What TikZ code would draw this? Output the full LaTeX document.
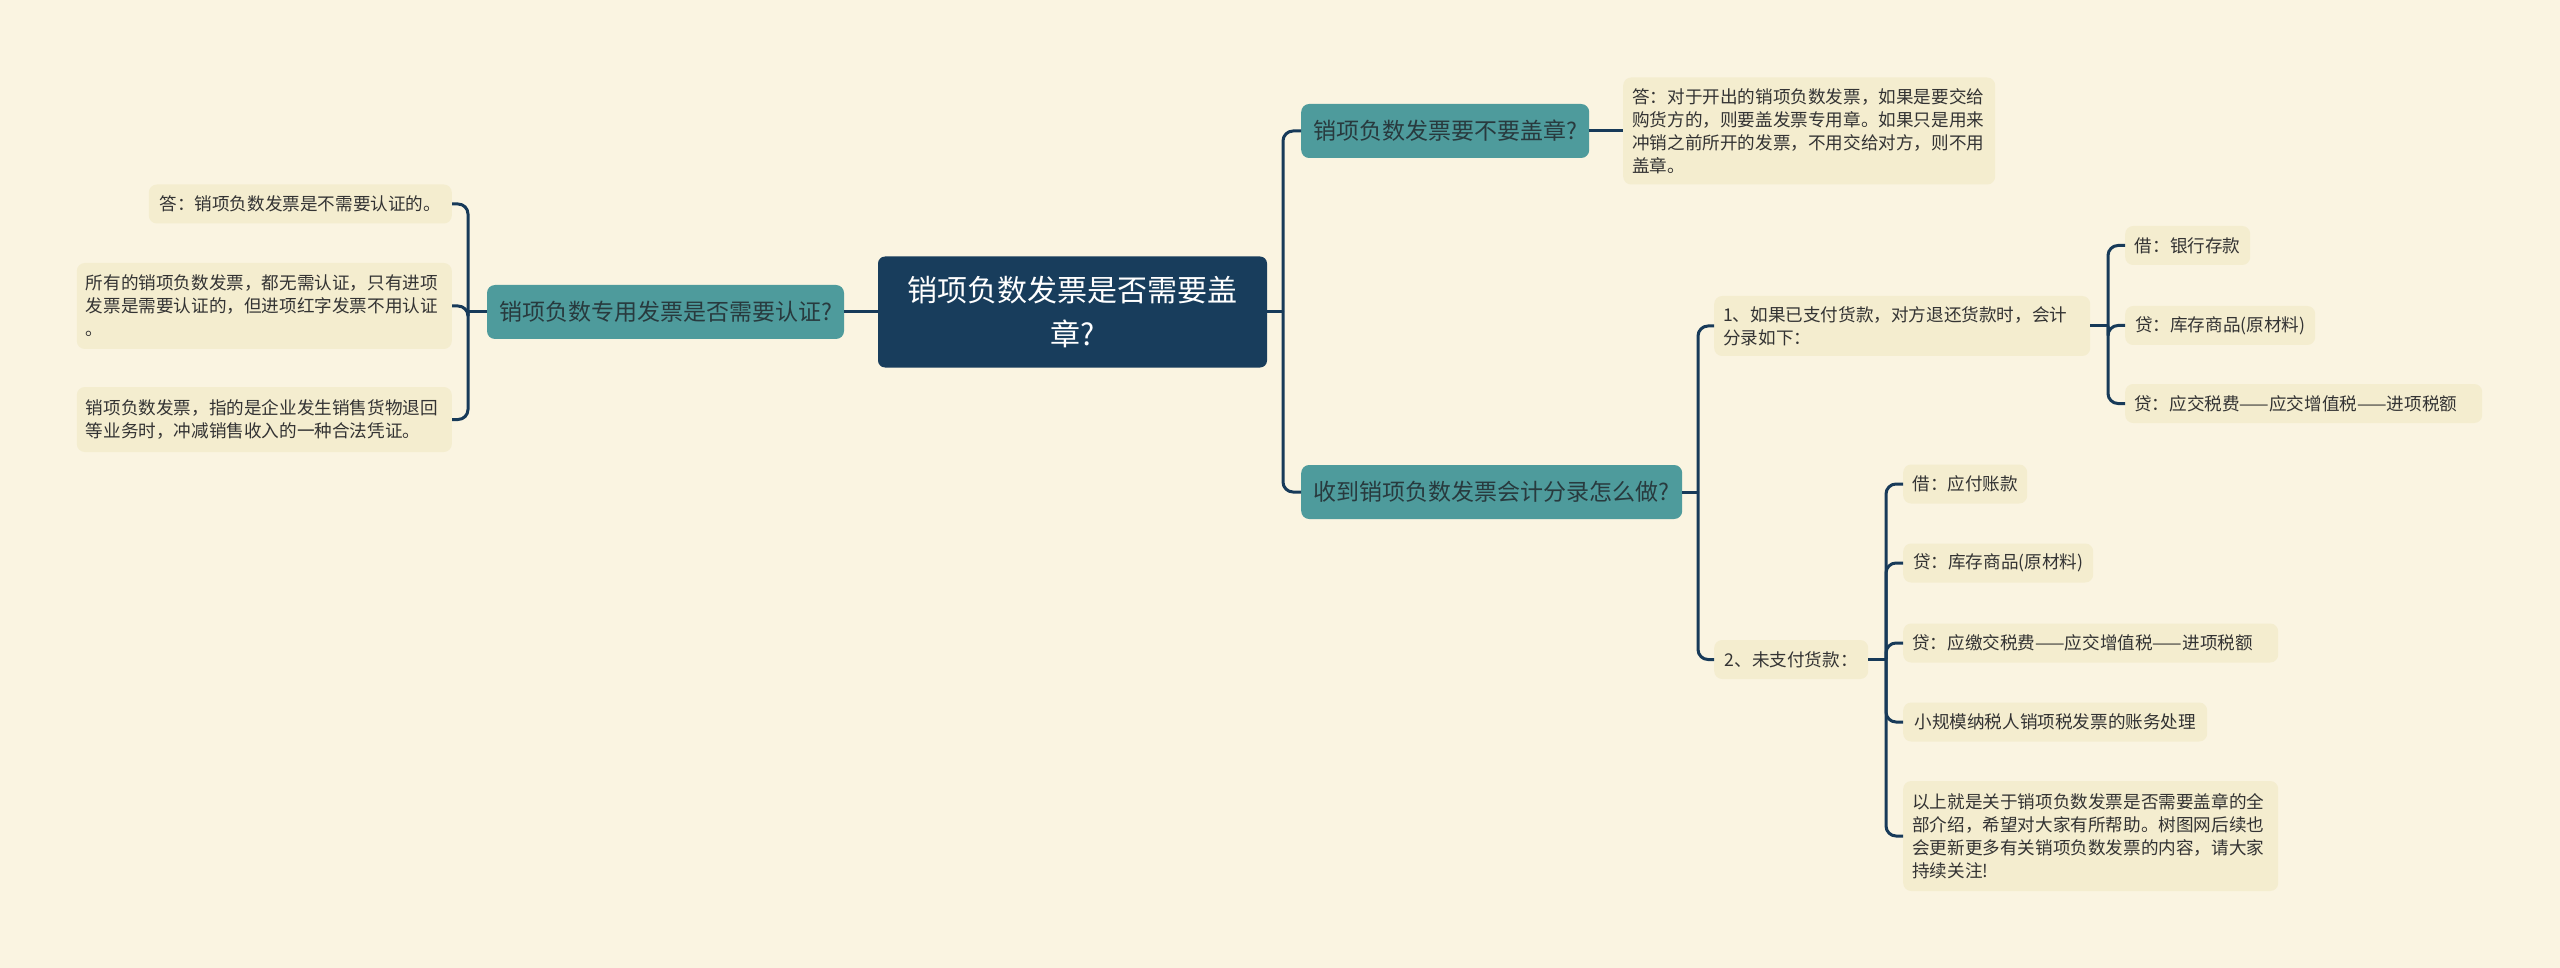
\documentclass[tikz,border=0pt]{standalone}
\usepackage{fontspec}
\setmainfont{Noto Sans CJK SC}
\definecolor{bg}{HTML}{FAF4E1}
\definecolor{leaffill}{HTML}{F4EDCF}
\definecolor{leaftext}{HTML}{333333}
\definecolor{teal}{HTML}{4E9B9C}
\definecolor{tealtext}{HTML}{283A3E}
\definecolor{rootfill}{HTML}{183D5C}
\definecolor{conncol}{HTML}{173A59}
\tikzset{
  leaf/.style={fill=leaffill, rounded corners=8pt, text=leaftext,
    font=\fontsize{17.6}{23}\selectfont, inner xsep=9pt, inner ysep=0pt,
    minimum height=39pt, align=left},
  sub/.style={fill=teal, rounded corners=8pt, text=tealtext,
    font=\fontsize{23}{28}\selectfont, inner xsep=10pt, inner ysep=0pt,
    minimum height=54pt, align=center},
  rootbox/.style={fill=rootfill, rounded corners=7pt, text=white,
    font=\fontsize{30}{44}\selectfont, align=center, inner sep=0pt,
    minimum width=389pt, minimum height=111pt},
  conn/.style={draw=conncol, line width=3pt, rounded corners=10pt}
}
\begin{document}
\begin{tikzpicture}[x=1pt,y=-1pt]
\useasboundingbox[fill=bg] (0,0) rectangle (2560,968);

% root
\node[rootbox] (root) at (1072.5,312) {销项负数发票是否需要盖\\章?};

% left branch
\node[sub, minimum width=357pt] (l1) at (665.5,312) {销项负数专用发票是否需要认证?};
\node[leaf, anchor=east, minimum width=303pt] (la) at (452,204) {答：销项负数发票是不需要认证的。};
\node[leaf, anchor=east, text width=357pt, minimum height=86pt] (lb) at (452,306) {所有的销项负数发票，都无需认证，只有进项\\发票是需要认证的，但进项红字发票不用认证\\。};
\node[leaf, anchor=east, text width=357pt, minimum height=65pt] (lc) at (452,419.5) {销项负数发票，指的是企业发生销售货物退回\\等业务时，冲减销售收入的一种合法凭证。};

% right branch top
\node[sub, anchor=west, minimum width=288pt] (r1) at (1301,131) {销项负数发票要不要盖章?};
\node[leaf, anchor=west, text width=354pt, minimum height=107pt] (rt) at (1623,131) {答：对于开出的销项负数发票，如果是要交给\\购货方的，则要盖发票专用章。如果只是用来\\冲销之前所开的发票，不用交给对方，则不用\\盖章。};

% right branch bottom
\node[sub, anchor=west, minimum width=381pt] (r2) at (1301,492) {收到销项负数发票会计分录怎么做?};
\node[leaf, anchor=west, text width=358pt, minimum height=60pt] (p1) at (1714,326) {1、如果已支付货款，对方退还货款时，会计\\分录如下：};
\node[leaf, anchor=west, minimum width=154pt] (p2) at (1714,659.5) {2、未支付货款：};

\node[leaf, anchor=west, minimum width=125pt] (g1a) at (2125,245.5) {借：银行存款};
\node[leaf, anchor=west, minimum width=190pt] (g1b) at (2125,325.5) {贷：库存商品(原材料)};
\node[leaf, anchor=west, text width=339pt] (g1c) at (2125,403.5) {贷：应交税费——应交增值税——进项税额};

\node[leaf, anchor=west, minimum width=124pt] (g2a) at (1903,484) {借：应付账款};
\node[leaf, anchor=west, minimum width=190pt] (g2b) at (1903,563) {贷：库存商品(原材料)};
\node[leaf, anchor=west, text width=357pt] (g2c) at (1903,643) {贷：应缴交税费——应交增值税——进项税额};
\node[leaf, anchor=west, minimum width=304pt] (g2d) at (1903,722) {小规模纳税人销项税发票的账务处理};
\node[leaf, anchor=west, text width=357pt, minimum height=110pt] (g2e) at (1903,836) {以上就是关于销项负数发票是否需要盖章的全\\部介绍，希望对大家有所帮助。树图网后续也\\会更新更多有关销项负数发票的内容，请大家\\持续关注!};

% junctions
\coordinate (jL) at (468,312);
\coordinate (jR) at (1283,312);
\coordinate (jB) at (1698,492);
\coordinate (j1) at (2108,326);
\coordinate (j2) at (1886,659.5);

% connectors
\draw[conn] (root.west) -- (l1.east);
\draw[conn] (l1.west) -- (jL);
\draw[conn] (jL) |- (la.east);
\draw[conn] (jL) |- (lb.east);
\draw[conn] (jL) |- (lc.east);

\draw[conn] (root.east) -- (jR);
\draw[conn] (jR) |- (r1.west);
\draw[conn] (jR) |- (r2.west);
\draw[conn] (r1.east) -- (rt.west);

\draw[conn] (r2.east) -- (jB);
\draw[conn] (jB) |- (p1.west);
\draw[conn] (jB) |- (p2.west);

\draw[conn] (p1.east) -- (j1);
\draw[conn] (j1) |- (g1a.west);
\draw[conn] (j1) |- (g1b.west);
\draw[conn] (j1) |- (g1c.west);

\draw[conn] (p2.east) -- (j2);
\draw[conn] (j2) |- (g2a.west);
\draw[conn] (j2) |- (g2b.west);
\draw[conn] (j2) |- (g2c.west);
\draw[conn] (j2) |- (g2d.west);
\draw[conn] (j2) |- (g2e.west);
\end{tikzpicture}
\end{document}
